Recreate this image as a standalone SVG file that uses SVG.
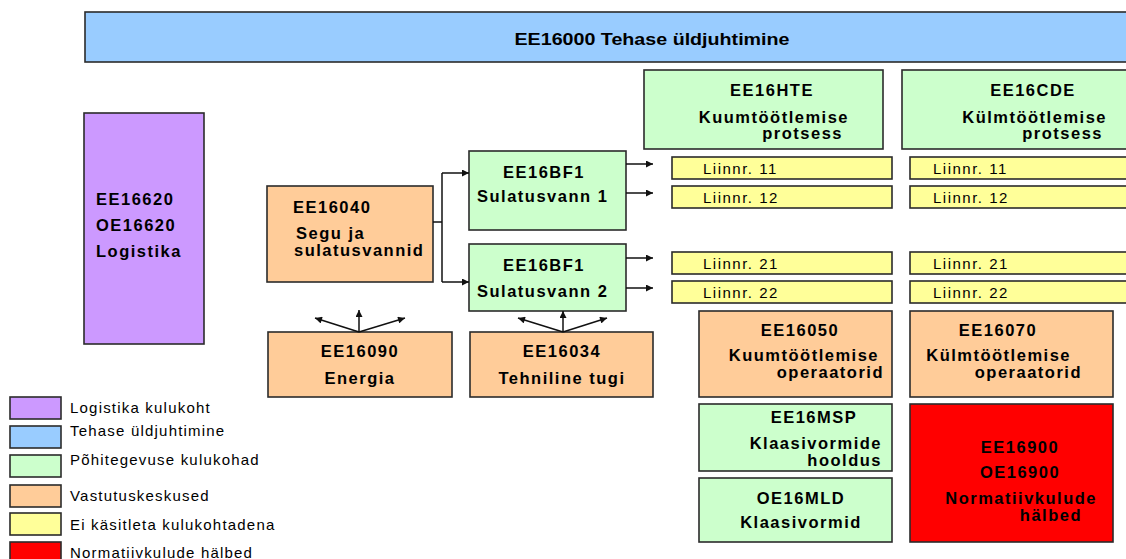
<svg xmlns="http://www.w3.org/2000/svg" width="1126" height="559" viewBox="0 0 1126 559">
  <style>
    .box { stroke: #2b2b2b; stroke-width: 1.6; }
    .purple { fill: #cc99ff; }
    .blue { fill: #99ccff; }
    .green { fill: #ccffcc; }
    .orange { fill: #ffcc99; }
    .yellow { fill: #ffff99; }
    .red { fill: #ff0000; }
    text { font-family: "Liberation Sans", Arial, sans-serif; fill: #000; }
    .b { font-size: 16.5px; font-weight: bold; letter-spacing: 1.5px; }
    .title { font-size: 16.5px; font-weight: bold; }
    .line { font-size: 15px; letter-spacing: 1.5px; }
    .leg { font-size: 15px; letter-spacing: 1.2px; }
    .conn { stroke: #111; stroke-width: 1.5; fill: none; }
  </style>
  <defs>
    <marker id="arrow" viewBox="0 0 10 10" refX="10" refY="5" markerWidth="8" markerHeight="7" markerUnits="userSpaceOnUse" orient="auto">
      <path d="M0,0 L10,5 L0,10 z" fill="#111"/>
    </marker>
  </defs>

  <rect width="1126" height="559" fill="#ffffff"/>

  <!-- plant management bar -->
  <g id="n-ee16000">
    <rect class="box blue" x="85" y="12" width="1060" height="50"/>
    <text class="title" x="652" y="45" text-anchor="middle" textLength="275" lengthAdjust="spacingAndGlyphs">EE16000 Tehase üldjuhtimine</text>
  </g>

  <!-- logistics -->
  <g id="n-ee16620">
    <rect class="box purple" x="84" y="113" width="120" height="231"/>
    <text class="b" x="96" y="205">EE16620</text>
    <text class="b" x="96" y="231">OE16620</text>
    <text class="b" x="96" y="257">Logistika</text>
  </g>

  <!-- mixing and melting -->
  <g id="n-ee16040">
    <rect class="box orange" x="267" y="186" width="166" height="96"/>
    <text class="b" x="293" y="213">EE16040</text>
    <text class="b" x="296" y="239">Segu ja</text>
    <text class="b" x="294" y="256">sulatusvannid</text>
  </g>

  <g id="n-bf1-1">
    <rect class="box green" x="469" y="151" width="157" height="79"/>
    <text class="b" x="544" y="178" text-anchor="middle">EE16BF1</text>
    <text class="b" x="477" y="202">Sulatusvann 1</text>
  </g>

  <g id="n-bf1-2">
    <rect class="box green" x="469" y="244" width="157" height="67"/>
    <text class="b" x="544" y="271" text-anchor="middle">EE16BF1</text>
    <text class="b" x="477" y="297">Sulatusvann 2</text>
  </g>

  <g id="n-ee16090">
    <rect class="box orange" x="268" y="332" width="184" height="65"/>
    <text class="b" x="360" y="357" text-anchor="middle">EE16090</text>
    <text class="b" x="360" y="384" text-anchor="middle">Energia</text>
  </g>

  <g id="n-ee16034">
    <rect class="box orange" x="470" y="332" width="183" height="65"/>
    <text class="b" x="562" y="357" text-anchor="middle">EE16034</text>
    <text class="b" x="562" y="384" text-anchor="middle">Tehniline tugi</text>
  </g>

  <!-- hot processing column -->
  <g id="n-ee16hte">
    <rect class="box green" x="644" y="70" width="239" height="79"/>
    <text class="b" x="772" y="96" text-anchor="middle">EE16HTE</text>
    <text class="b" x="849" y="123" text-anchor="end">Kuumtöötlemise</text>
    <text class="b" x="843" y="139" text-anchor="end">protsess</text>
  </g>

  <g id="n-hte-11"><rect class="box yellow" x="672" y="157" width="220" height="22"/><text class="line" x="703" y="174">Liinnr. 11</text></g>
  <g id="n-hte-12"><rect class="box yellow" x="672" y="186" width="220" height="22"/><text class="line" x="703" y="203">Liinnr. 12</text></g>
  <g id="n-hte-21"><rect class="box yellow" x="672" y="252" width="220" height="22"/><text class="line" x="703" y="269">Liinnr. 21</text></g>
  <g id="n-hte-22"><rect class="box yellow" x="672" y="281" width="220" height="22"/><text class="line" x="703" y="298">Liinnr. 22</text></g>

  <!-- cold processing column -->
  <g id="n-ee16cde">
    <rect class="box green" x="902" y="70" width="240" height="79"/>
    <text class="b" x="1033" y="96" text-anchor="middle">EE16CDE</text>
    <text class="b" x="1107" y="123" text-anchor="end">Külmtöötlemise</text>
    <text class="b" x="1103" y="139" text-anchor="end">protsess</text>
  </g>

  <g id="n-cde-11"><rect class="box yellow" x="910" y="157" width="230" height="22"/><text class="line" x="933" y="174">Liinnr. 11</text></g>
  <g id="n-cde-12"><rect class="box yellow" x="910" y="186" width="230" height="22"/><text class="line" x="933" y="203">Liinnr. 12</text></g>
  <g id="n-cde-21"><rect class="box yellow" x="910" y="252" width="230" height="22"/><text class="line" x="933" y="269">Liinnr. 21</text></g>
  <g id="n-cde-22"><rect class="box yellow" x="910" y="281" width="230" height="22"/><text class="line" x="933" y="298">Liinnr. 22</text></g>

  <!-- operators -->
  <g id="n-ee16050">
    <rect class="box orange" x="699" y="311" width="193" height="86"/>
    <text class="b" x="800" y="336" text-anchor="middle">EE16050</text>
    <text class="b" x="879" y="361" text-anchor="end">Kuumtöötlemise</text>
    <text class="b" x="884" y="378" text-anchor="end">operaatorid</text>
  </g>

  <g id="n-ee16070">
    <rect class="box orange" x="910" y="311" width="203" height="86"/>
    <text class="b" x="998" y="336" text-anchor="middle">EE16070</text>
    <text class="b" x="1071" y="361" text-anchor="end">Külmtöötlemise</text>
    <text class="b" x="1082" y="378" text-anchor="end">operaatorid</text>
  </g>

  <g id="n-ee16msp">
    <rect class="box green" x="699" y="404" width="193" height="67"/>
    <text class="b" x="814" y="423" text-anchor="middle">EE16MSP</text>
    <text class="b" x="882" y="449" text-anchor="end">Klaasivormide</text>
    <text class="b" x="882" y="466" text-anchor="end">hooldus</text>
  </g>

  <g id="n-oe16mld">
    <rect class="box green" x="699" y="478" width="193" height="64"/>
    <text class="b" x="801" y="504" text-anchor="middle">OE16MLD</text>
    <text class="b" x="801" y="528" text-anchor="middle">Klaasivormid</text>
  </g>

  <g id="n-ee16900">
    <rect class="box red" x="910" y="404" width="203" height="138"/>
    <text class="b" x="1020" y="453" text-anchor="middle">EE16900</text>
    <text class="b" x="1020" y="478" text-anchor="middle">OE16900</text>
    <text class="b" x="1097" y="504" text-anchor="end">Normatiivkulude</text>
    <text class="b" x="1082" y="521" text-anchor="end">hälbed</text>
  </g>

  <!-- connectors -->
  <g id="connectors">
    <path class="conn" d="M433,222 H442"/>
    <path class="conn" d="M442,173 V282"/>
    <path class="conn" d="M442,173 H469" marker-end="url(#arrow)"/>
    <path class="conn" d="M442,282 H469" marker-end="url(#arrow)"/>

    <path class="conn" d="M626,164 H653" marker-end="url(#arrow)"/>
    <path class="conn" d="M626,193 H653" marker-end="url(#arrow)"/>
    <path class="conn" d="M626,258 H653" marker-end="url(#arrow)"/>
    <path class="conn" d="M626,288 H653" marker-end="url(#arrow)"/>

    <path class="conn" d="M359,332 L315,318" marker-end="url(#arrow)"/>
    <path class="conn" d="M359,332 V310" marker-end="url(#arrow)"/>
    <path class="conn" d="M359,332 L405,318" marker-end="url(#arrow)"/>

    <path class="conn" d="M563,332 L518,318" marker-end="url(#arrow)"/>
    <path class="conn" d="M563,332 V311" marker-end="url(#arrow)"/>
    <path class="conn" d="M563,332 L607,318" marker-end="url(#arrow)"/>
  </g>

  <!-- legend -->
  <g id="legend">
    <rect class="box purple" x="10" y="397" width="51" height="22"/>
    <text class="leg" x="70" y="413">Logistika kulukoht</text>
    <rect class="box blue" x="10" y="426" width="51" height="22"/>
    <text class="leg" x="70" y="436">Tehase üldjuhtimine</text>
    <rect class="box green" x="10" y="455" width="51" height="22"/>
    <text class="leg" x="70" y="465">Põhitegevuse kulukohad</text>
    <rect class="box orange" x="10" y="485" width="51" height="22"/>
    <text class="leg" x="70" y="501">Vastutuskeskused</text>
    <rect class="box yellow" x="10" y="513" width="51" height="22"/>
    <text class="leg" x="70" y="530">Ei käsitleta kulukohtadena</text>
    <rect class="box red" x="10" y="542" width="51" height="22"/>
    <text class="leg" x="70" y="558">Normatiivkulude hälbed</text>
  </g>
</svg>
